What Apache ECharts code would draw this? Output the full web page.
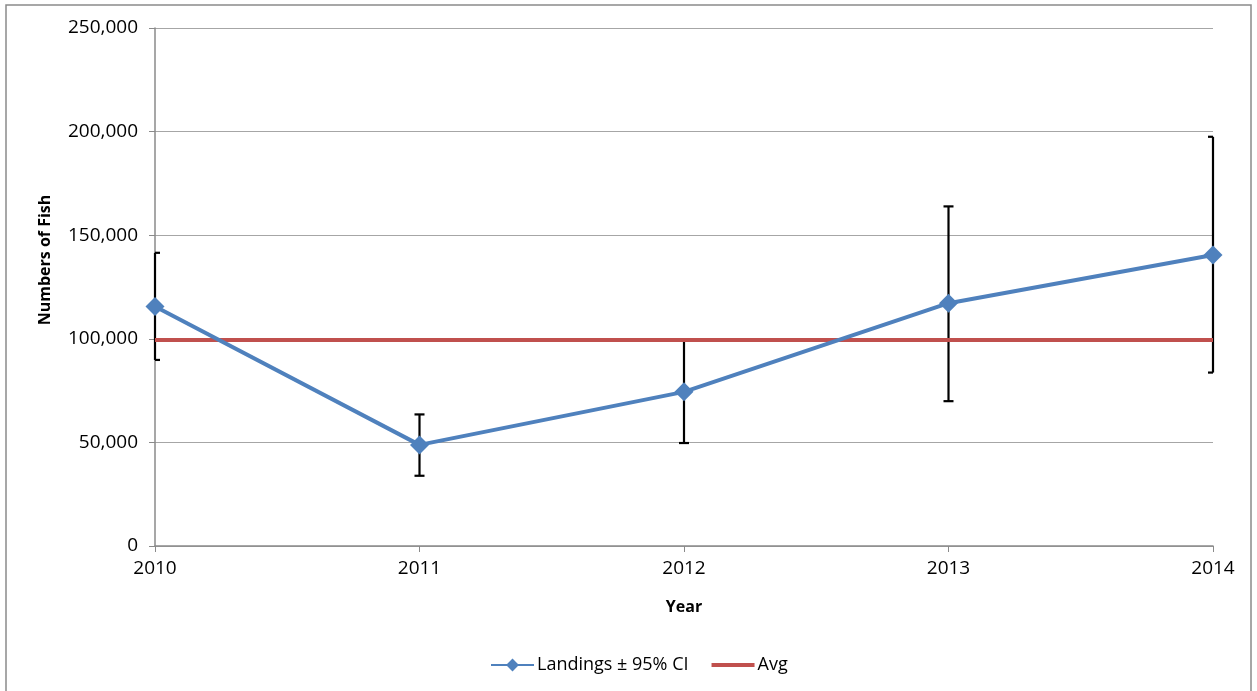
<!DOCTYPE html>
<html>
<head>
<meta charset="utf-8">
<script src="https://cdn.jsdelivr.net/npm/echarts@6/dist/echarts.min.js"></script>
<style>
  html, body { margin: 0; padding: 0; background: #fff; }
  #chart { width: 1257px; height: 691px; }
</style>
</head>
<body>
<div id="chart"></div>
<script>
// chart values
const years = ["2010", "2011", "2012", "2013", "2014"];
const landings = [115600, 48800, 74400, 117200, 140400];
const ciLow = [89800, 33900, 49700, 69900, 83700];
const ciHigh = [141500, 63500, 99200, 163900, 197500];
const avg = [99400, 99400, 99400, 99400, 99400];
const yTicks = [0, 50000, 100000, 150000, 200000, 250000];

const FONT = "'Open Sans', 'Noto Sans', sans-serif";

const errData = years.map((y, i) => [i, ciLow[i], ciHigh[i]]);

const chart = echarts.init(document.getElementById("chart"));

// error bar with caps, caps clipped to the plot area
function renderErr(params, api) {
  const lo = api.coord([api.value(0), api.value(1)]);
  const hi = api.coord([api.value(0), api.value(2)]);
  const cs = params.coordSys;
  const capW = 5;
  const x0 = Math.max(cs.x, lo[0] - capW);
  const x1 = Math.min(cs.x + cs.width, lo[0] + capW);
  const style = { stroke: "#000", lineWidth: 2.2 };
  return {
    type: "group",
    children: [
      { type: "line", shape: { x1: lo[0], y1: lo[1], x2: hi[0], y2: hi[1] }, style },
      { type: "line", shape: { x1: x0, y1: hi[1], x2: x1, y2: hi[1] }, style },
      { type: "line", shape: { x1: x0, y1: lo[1], x2: x1, y2: lo[1] }, style }
    ]
  };
}

const option = {
  animation: false,
  textStyle: { fontFamily: FONT },
  grid: { left: 155, right: 44, top: 28, bottom: 145, containLabel: false },
  graphic: [
    {
      type: "rect",
      shape: { x: 6, y: 5, width: 1245, height: 700 },
      style: { fill: "none", stroke: "#8a8a8a", lineWidth: 1.5 },
      silent: true
    },
    {
      type: "text",
      x: 45, y: 260,
      rotation: Math.PI / 2,
      style: {
        text: "Numbers of Fish",
        font: "bold 16px " + FONT,
        fill: "#000",
        align: "center",
        verticalAlign: "middle"
      }
    }
  ],
  legend: {
    left: 485,
    top: 651,
    itemWidth: 43,
    itemHeight: 16,
    itemGap: 23,
    data: [
      { name: "Landings ± 95% CI" },
      { name: "Avg", icon: "path://M0,0 L43,0 L43,4 L0,4 Z" }
    ],
    textStyle: { fontSize: 18, color: "#000", fontFamily: FONT, padding: [0, 0, 0, -2] }
  },
  xAxis: {
    type: "category",
    data: years,
    boundaryGap: false,
    name: "Year",
    nameLocation: "middle",
    nameGap: 53,
    nameTextStyle: { fontSize: 16, fontWeight: "bold", color: "#000" },
    axisLine: { lineStyle: { color: "#8a8a8a", width: 1.5 } },
    axisTick: { show: true, length: 6, lineStyle: { color: "#8a8a8a" } },
    axisLabel: { fontSize: 19, color: "#000", margin: 13 },
    splitLine: { show: false }
  },
  yAxis: {
    type: "value",
    min: 0,
    max: 250000,
    interval: 50000,
    axisLine: { show: true, lineStyle: { color: "#8a8a8a", width: 1.5 } },
    axisTick: { show: true, length: 6, lineStyle: { color: "#8a8a8a" } },
    axisLabel: {
      fontSize: 19,
      color: "#000",
      margin: 17,
      formatter: v => yTicks.includes(v) ? v.toLocaleString("en-US") : ""
    },
    splitLine: { lineStyle: { color: "#a6a6a6", width: 1.2 } }
  },
  series: [
    {
      type: "custom",
      name: "CI",
      renderItem: renderErr,
      data: errData,
      z: 1,
      silent: true
    },
    {
      type: "line",
      name: "Avg",
      data: avg,
      symbol: "none",
      lineStyle: { color: "#C0504D", width: 4 },
      itemStyle: { color: "#C0504D" },
      z: 2
    },
    {
      type: "line",
      name: "Landings ± 95% CI",
      data: landings,
      symbol: "diamond",
      symbolSize: 19,
      lineStyle: { color: "#4F81BD", width: 4 },
      itemStyle: { color: "#4F81BD" },
      z: 3
    }
  ]
};

chart.setOption(option);
</script>
</body>
</html>
